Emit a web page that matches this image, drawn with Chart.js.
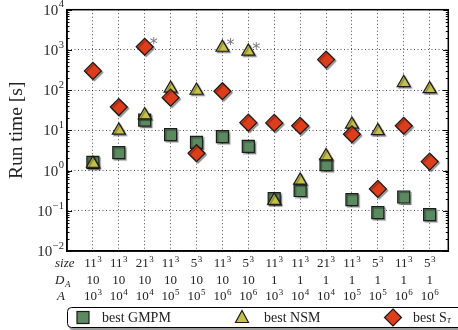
<!DOCTYPE html>
<html><head><meta charset="utf-8">
<script src="https://cdn.jsdelivr.net/npm/chart.js@4/dist/chart.umd.min.js"></script>
<style>html,body{margin:0;padding:0;background:#fff}#wrap{width:458px;height:330px}</style>
</head><body><div id="wrap"><canvas id="c" width="458" height="330"></canvas></div>
<script>
// ---- data ----  (base ^ exponent pairs for the table under the x axis)
const sizeBase = ['11','11','21','11','5','11','5','11','11','21','11','5','11','5'];
const sizeExp  = ['3','3','3','3','3','3','3','3','3','3','3','3','3','3'];
const daLabels = ['10','10','10','10','10','10','10','1','1','1','1','1','1','1'];
const aBase    = ['10','10','10','10','10','10','10','10','10','10','10','10','10','10'];
const aExp     = ['3','4','4','5','5','6','6','3','4','4','5','5','6','6'];
const gmpm = [1.6, 2.8, 18, 7.8, 5, 7, 4, 0.2, 0.32, 1.4, 0.19, 0.09, 0.22, 0.08];
const nsm  = [1.5, 10, 24, 110, 98, 1150, 920, 0.18, 0.57, 2.3, 14, 9.7, 152, 107];
const stau = [300, 38, 1200, 65, 2.7, 94, 15.5, 15.3, 13, 575, 8, 0.35, 13, 1.67];
const yTickValues = [0.01, 0.1, 1, 10, 100, 1000, 10000];
const starredNSM = [5, 6];
const starredStau = [2];
const seriesNames = ['best GMPM', 'best NSM', 'best S'];

const serif = "'Liberation Serif','DejaVu Serif',serif";
const colGM = '#5c8a60', colNS = '#c4c04a', colST = '#de3d1b', edge = '#1b1b1b';

const mk = (label, data, style, color, r, order) => ({
  label, data: data.map((v, i) => ({x: i + 1, y: v})),
  pointStyle: style, backgroundColor: color, borderColor: edge, borderWidth: 1.2,
  pointRadius: r, pointHoverRadius: r, showLine: false, order
});

// draw base + superscript; align: 'center' | 'right'
function drawSup(c, base, exp, x, y, align, bs, ss, raise) {
  c.font = bs + 'px ' + serif;
  const wb = c.measureText(base).width;
  c.font = ss + 'px ' + serif;
  const we = exp ? c.measureText(exp).width + 0.5 : 0;
  const total = wb + we;
  const x0 = align === 'center' ? x - total / 2 : x - total;
  c.textAlign = 'left'; c.textBaseline = 'middle';
  c.font = bs + 'px ' + serif; c.fillText(base, x0, y);
  if (exp) { c.font = ss + 'px ' + serif; c.fillText(exp, x0 + wb + 0.5, y - raise); }
}

const shadowPlugin = {
  id: 'shadow',
  beforeDatasetsDraw(chart) {
    const c = chart.ctx; c.save();
    c.shadowColor = 'rgba(0,0,0,0.35)'; c.shadowOffsetX = 1.5; c.shadowOffsetY = 1.5; c.shadowBlur = 1;
  },
  afterDatasetsDraw(chart) { chart.ctx.restore(); }
};

const decorPlugin = {
  id: 'decor',
  afterDraw(chart) {
    const c = chart.ctx, a = chart.chartArea, xs = chart.scales.x, ys = chart.scales.y;
    c.save();
    // minor/major ticks on y axis
    c.strokeStyle = '#000'; c.lineWidth = 1;
    for (let d = -2; d < 4; d++) {
      for (let k = 1; k <= 10; k++) {
        const y = Math.round(ys.getPixelForValue(k * Math.pow(10, d))) + 0.5;
        const len = (k === 1 || k === 10) ? 5 : 2.5;
        c.beginPath(); c.moveTo(a.left, y); c.lineTo(a.left + len, y); c.stroke();
        c.beginPath(); c.moveTo(a.right, y); c.lineTo(a.right - len, y); c.stroke();
      }
    }
    // frame
    c.lineWidth = 1.5; c.strokeStyle = '#000';
    c.strokeRect(a.left, a.top, a.right - a.left, a.bottom - a.top);
    // y tick labels (10^n) placed by the y scale
    c.fillStyle = '#2a2a2a';
    ys.ticks.forEach(t => {
      const e = Math.round(Math.log10(t.value));
      drawSup(c, '10', e < 0 ? '\u2212' + (-e) : String(e), a.left - 3, ys.getPixelForValue(t.value) + 1, 'right', 15, 10.5, 6);
    });
    // x table labels placed by the x scale
    c.fillStyle = '#222';
    const r0 = xs.top + 13, r1 = r0 + 17, r2 = r0 + 33;
    xs.ticks.forEach((t, i) => {
      const x = xs.getPixelForValue(t.value);
      drawSup(c, sizeBase[i], sizeExp[i], x, r0, 'center', 13, 9, 4.5);
      drawSup(c, daLabels[i], '', x, r1, 'center', 13, 9, 4.5);
      drawSup(c, aBase[i], aExp[i], x, r2, 'center', 13, 9, 4.5);
    });
    // row labels of the table
    c.textAlign = 'left'; c.textBaseline = 'middle';
    c.font = 'italic 13px ' + serif;
    c.fillText('size', 55, r0);
    c.fillText('D', 55, r1);
    c.fillText('A', 57, r2);
    c.font = 'italic 9px ' + serif;
    c.fillText('A', 65, r1 + 3.5);
    // asterisks
    c.fillStyle = '#777'; c.font = "16px 'DejaVu Sans'"; c.textAlign = 'center'; c.textBaseline = 'middle';
    starredNSM.forEach(i => c.fillText('*', xs.getPixelForValue(i + 1) + 8, ys.getPixelForValue(nsm[i]) - 2));
    starredStau.forEach(i => c.fillText('*', xs.getPixelForValue(i + 1) + 9, ys.getPixelForValue(stau[i]) - 2));
    // legend box
    const lx = 67, ly = 307, lw = 400, lh = 20;
    c.fillStyle = '#9a9a9a';
    c.beginPath(); c.roundRect(lx + 2, ly + 3, lw, lh, 4); c.fill();
    c.fillStyle = '#fff'; c.strokeStyle = '#000'; c.lineWidth = 1;
    c.beginPath(); c.roundRect(lx + 0.5, ly + 0.5, lw, lh, 4); c.fill(); c.stroke();
    const cy = ly + 10.5;
    c.lineWidth = 1.2; c.strokeStyle = edge;
    c.fillStyle = colGM; c.fillRect(77, cy - 6, 12, 12); c.strokeRect(77, cy - 6, 12, 12);
    c.fillStyle = colNS; c.beginPath();
    c.moveTo(242, cy - 7); c.lineTo(248.5, cy + 5); c.lineTo(235.5, cy + 5); c.closePath(); c.fill(); c.stroke();
    c.fillStyle = colST; c.beginPath();
    c.moveTo(393, cy - 8.5); c.lineTo(401.5, cy); c.lineTo(393, cy + 8.5); c.lineTo(384.5, cy); c.closePath(); c.fill(); c.stroke();
    c.fillStyle = '#222'; c.font = '14px ' + serif; c.textBaseline = 'middle'; c.textAlign = 'left';
    c.fillText(seriesNames[0], 102, cy + 0.5);
    c.fillText(seriesNames[1], 264, cy + 0.5);
    c.fillText(seriesNames[2], 413, cy + 0.5);
    const sw = c.measureText(seriesNames[2]).width;
    c.font = 'italic 10px ' + serif;
    c.fillText('τ', 413 + sw + 0.5, cy + 3);
    c.restore();
  }
};

new Chart(document.getElementById('c'), {
  type: 'scatter',
  data: { datasets: [
    mk(seriesNames[0], gmpm, 'rect', colGM, 8.5, 3),
    mk(seriesNames[1], nsm, 'triangle', colNS, 7.5, 2),
    mk(seriesNames[2] + 'τ', stau, 'rectRot', colST, 8.5, 1)
  ]},
  options: {
    responsive: false, animation: false, devicePixelRatio: 1,
    layout: { padding: { top: 8, right: 1, left: 0, bottom: 0 } },
    plugins: { legend: { display: false }, tooltip: { enabled: false } },
    scales: {
      x: {
        type: 'linear', min: 0, max: 14.72, z: 1,
        afterBuildTicks: s => { s.ticks = sizeBase.map((_, i) => ({ value: i + 1 })); },
        afterFit: s => { s.height = 79; },
        grid: { color: 'rgba(0,0,0,0.7)', lineWidth: 1, drawTicks: false },
        border: { display: true, color: '#000', width: 1.5, dash: [1, 2.5] },
        ticks: { display: false }
      },
      y: {
        type: 'logarithmic', min: 0.01, max: 10000, z: 1,
        afterBuildTicks: s => { s.ticks = yTickValues.map(v => ({ value: v, major: true })); },
        afterFit: s => { s.width = 67; },
        grid: { color: 'rgba(0,0,0,0.7)', lineWidth: 1, drawTicks: false },
        border: { display: true, color: '#000', width: 1.5, dash: [1, 2.5] },
        ticks: { display: false },
        title: { display: true, text: 'Run time [s]', color: '#222',
          font: { family: serif, size: 19.5 }, padding: { top: 5, bottom: 0 } }
      }
    }
  },
  plugins: [shadowPlugin, decorPlugin]
});
</script></body></html>
